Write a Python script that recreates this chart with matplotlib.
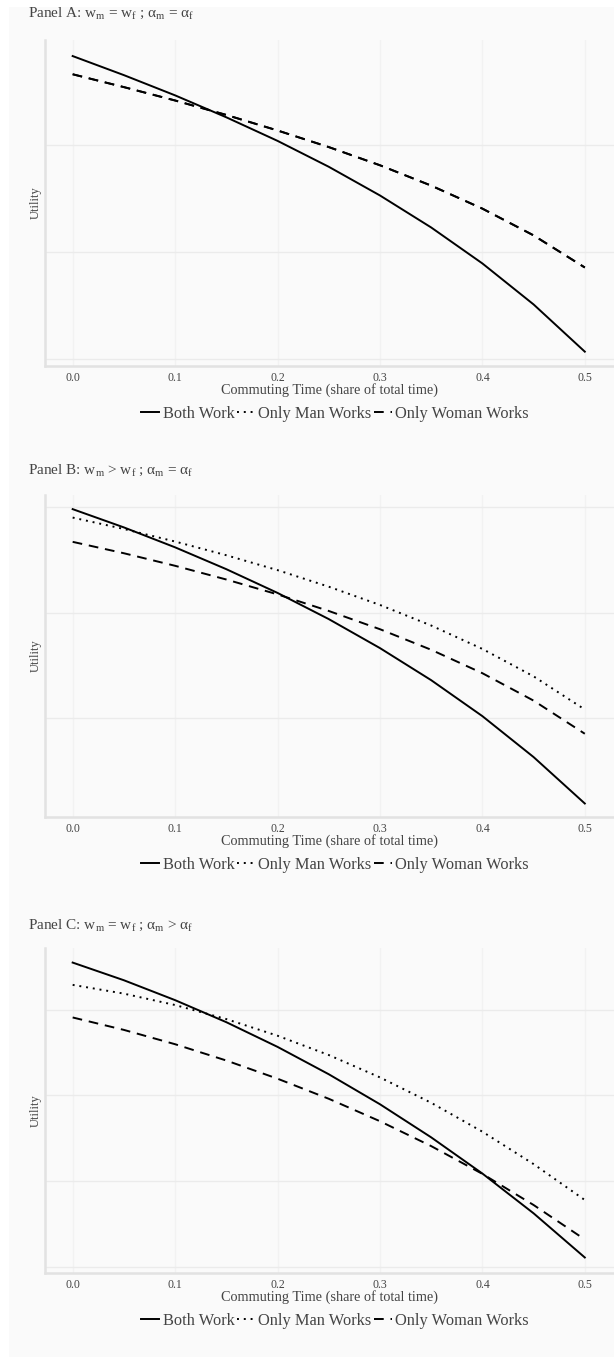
import numpy as np
import matplotlib
matplotlib.use('Agg')
import matplotlib.pyplot as plt
from matplotlib.patches import Rectangle
from matplotlib.lines import Line2D

plt.rcParams['font.family'] = ['Liberation Serif', 'DejaVu Serif']
plt.rcParams['mathtext.fontset'] = 'custom'
plt.rcParams['mathtext.rm'] = 'Liberation Serif'
plt.rcParams['mathtext.it'] = 'Liberation Serif:italic'

# commuting time (share of total time)
commute = [0.0, 0.05, 0.1, 0.15, 0.2, 0.25, 0.3, 0.35, 0.4, 0.45, 0.5]

# Panel A: w_m = w_f ; alpha_m = alpha_f  (man-only and woman-only coincide)
a_both = [3.83, 3.652, 3.463, 3.258, 3.038, 2.796, 2.528, 2.229, 1.893, 1.510, 1.069]
a_man = [3.66, 3.54, 3.415, 3.28, 3.135, 2.98, 2.81, 2.62, 2.405, 2.155, 1.855]
a_woman = [3.66, 3.54, 3.415, 3.28, 3.135, 2.98, 2.81, 2.62, 2.405, 2.155, 1.855]

# Panel B: w_m > w_f ; alpha_m = alpha_f
b_both = [2.98, 2.807, 2.618, 2.411, 2.186, 1.938, 1.663, 1.359, 1.018, 0.630, 0.190]
b_man = [2.90, 2.792, 2.673, 2.543, 2.402, 2.245, 2.072, 1.877, 1.655, 1.395, 1.081]
b_woman = [2.67, 2.562, 2.443, 2.313, 2.172, 2.015, 1.842, 1.647, 1.425, 1.165, 0.851]

# Panel C: w_m = w_f ; alpha_m > alpha_f
c_both = [4.55, 4.344, 4.112, 3.855, 3.567, 3.248, 2.898, 2.512, 2.090, 1.626, 1.111]
c_man = [4.29, 4.188, 4.055, 3.891, 3.697, 3.472, 3.211, 2.915, 2.578, 2.200, 1.781]
c_woman = [3.91, 3.765, 3.598, 3.408, 3.196, 2.962, 2.700, 2.410, 2.086, 1.723, 1.321]

titles = [r'Panel A: $\mathrm{w_m}$ = $\mathrm{w_f}$ ; $\mathrm{α_m}$ = $\mathrm{α_f}$',
          r'Panel B: $\mathrm{w_m}$ > $\mathrm{w_f}$ ; $\mathrm{α_m}$ = $\mathrm{α_f}$',
          r'Panel C: $\mathrm{w_m}$ = $\mathrm{w_f}$ ; $\mathrm{α_m}$ > $\mathrm{α_f}$']
series = [(a_both, a_man, a_woman), (b_both, b_man, b_woman), (c_both, c_man, c_woman)]
grid_y = [[1, 2, 3], [1, 2, 3], [1, 2, 3, 4]]
ylims = [(0.935, 3.98), (0.062, 3.114), (0.93, 4.72)]
labels = ['Both Work', 'Only Man Works', 'Only Woman Works']
xticks = [0.0, 0.1, 0.2, 0.3, 0.4, 0.5]

W, H = 614, 1357
fig = plt.figure(figsize=(W / 100, H / 100), dpi=100, facecolor='white')
fig.patches.append(Rectangle((9 / W, 0), 1, 1 - 7 / H, transform=fig.transFigure,
                             facecolor='#fafafa', edgecolor='none', zorder=-10))

text_col = '#444444'
lw = 1.4
dot = (0, (1, 2.5))
dash = (0, (5, 3.5))
handles = [Line2D([], [], color='black', lw=lw),
           Line2D([], [], color='black', lw=lw, linestyle=dot),
           Line2D([], [], color='black', lw=lw, linestyle=dash)]

# (axes bottom px, axes top px, title y px)
boxes = [(366, 40, 13), (817, 495, 470), (1273, 948, 925)]

for i, ax_box in enumerate(boxes):
    bot, top, ty = ax_box
    ax = fig.add_axes([45 / W, (H - bot) / H, (W - 45) / W, (bot - top) / H])
    ax.set_facecolor('none')
    both, man, woman = series[i]
    ax.plot(commute, both, color='black', lw=lw)
    # in panel A the man-only curve sits exactly under the woman-only curve
    ax.plot(commute, man, color='black', lw=lw, linestyle=dash if i == 0 else dot)
    ax.plot(commute, woman, color='black', lw=lw, linestyle=dash)

    ax.set_xlim(-0.027, 0.5285)
    ax.set_ylim(*ylims[i])
    ax.set_xticks(xticks)
    ax.set_xticklabels([f'{t:.1f}' for t in xticks])
    ax.set_yticks(grid_y[i])
    ax.set_yticklabels([])
    ax.tick_params(axis='both', length=0, labelsize=8.5, colors=text_col, pad=4.5)
    ax.grid(axis='y', color='#ebebeb', lw=1)
    ax.grid(axis='x', color='#f2f2f2', lw=1)
    ax.set_axisbelow(True)
    for s in ['top', 'right']:
        ax.spines[s].set_visible(False)
    for s in ['left', 'bottom']:
        ax.spines[s].set_color('#e2e2e2')
        ax.spines[s].set_linewidth(1.8)
    ax.set_xlabel('Commuting Time (share of total time)', fontsize=10.3,
                  color=text_col, labelpad=-1)
    ax.set_ylabel('Utility', fontsize=9, color=text_col)
    ax.yaxis.set_label_coords(-0.005, 0.5)

    leg_y = -48 / (bot - top)
    ax.legend(handles, labels, loc='center', bbox_to_anchor=(0.51, leg_y), ncol=3,
              frameon=False, fontsize=11.8, handlelength=1.1, handletextpad=0.2,
              columnspacing=0.15, labelcolor=text_col)

    fig.text(28 / W, 1 - ty / H, titles[i], fontsize=11, color=text_col,
             ha='left', va='center')

fig.savefig('out.png', dpi=100, facecolor=fig.get_facecolor())
